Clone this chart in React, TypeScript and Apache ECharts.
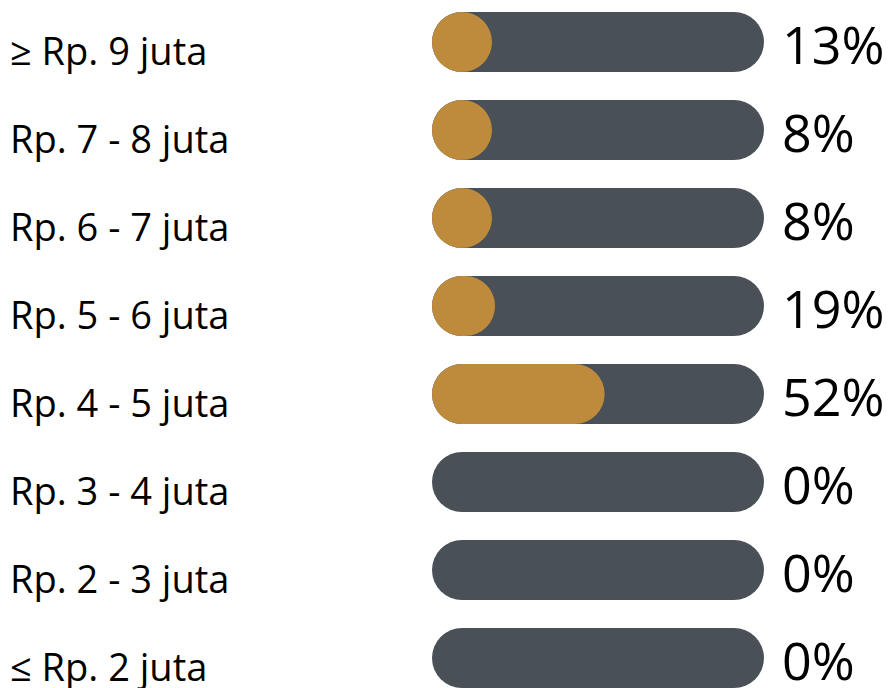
import React, { useEffect, useRef } from "react";
import * as echarts from "echarts";

const categories = [
  "≥ Rp. 9 juta",
  "Rp. 7 - 8 juta",
  "Rp. 6 - 7 juta",
  "Rp. 5 - 6 juta",
  "Rp. 4 - 5 juta",
  "Rp. 3 - 4 juta",
  "Rp. 2 - 3 juta",
  "≤ Rp. 2 juta",
];
const percentages = [13, 8, 8, 19, 52, 0, 0, 0];
const trackMax = 100;

const FONT = "'Open Sans', sans-serif";

export default function App() {
  const ref = useRef<HTMLDivElement>(null);
  useEffect(() => {
    if (!ref.current) return;
    const chart = echarts.init(ref.current, null, { renderer: "svg" });
    chart.setOption({
      animation: false,
      grid: {
        left: 432,
        width: 332,
        top: -2,
        height: 704,
        containLabel: false,
        outerBoundsMode: "none",
      },
      xAxis: { type: "value", min: 0, max: trackMax, show: false },
      yAxis: {
        type: "category",
        inverse: true,
        data: categories,
        axisLine: { show: false },
        axisTick: { show: false },
        splitLine: { show: false },
        axisLabel: { show: false },
      },
      series: [
        {
          name: "track",
          type: "bar",
          barWidth: 60,
          barGap: "-100%",
          silent: true,
          data: categories.map(() => trackMax),
          itemStyle: { color: "#4A5058", borderRadius: 30 },
          label: {
            show: true,
            position: [350, 31],
            align: "left",
            verticalAlign: "middle",
            fontSize: 52,
            lineHeight: 48,
            fontFamily: FONT,
            color: "#000",
            formatter: (p: any) => percentages[p.dataIndex] + "%",
          },
          z: 1,
        },
        {
          name: "share",
          type: "bar",
          barWidth: 60,
          barGap: "-100%",
          barMinHeight: 60,
          silent: true,
          data: percentages.map((v) => ({
            value: v,
            itemStyle: { opacity: v > 0 ? 1 : 0 },
          })),
          itemStyle: { color: "#BE8A3C", borderRadius: 30 },
          z: 2,
        },
        {
          name: "labels",
          type: "bar",
          barWidth: 60,
          barGap: "-100%",
          silent: true,
          data: categories.map(() => trackMax),
          itemStyle: { color: "rgba(0,0,0,0)" },
          label: {
            show: true,
            position: [-422, 38],
            align: "left",
            verticalAlign: "middle",
            fontSize: 38,
            lineHeight: 38,
            fontFamily: FONT,
            color: "#000",
            formatter: (p: any) => categories[p.dataIndex],
          },
          z: 3,
        },
      ],
    });
    return () => chart.dispose();
  }, []);
  return (
    <div
      ref={ref}
      style={{ position: "fixed", left: 0, top: 0, width: 892, height: 688, background: "#fff" }}
    />
  );
}
